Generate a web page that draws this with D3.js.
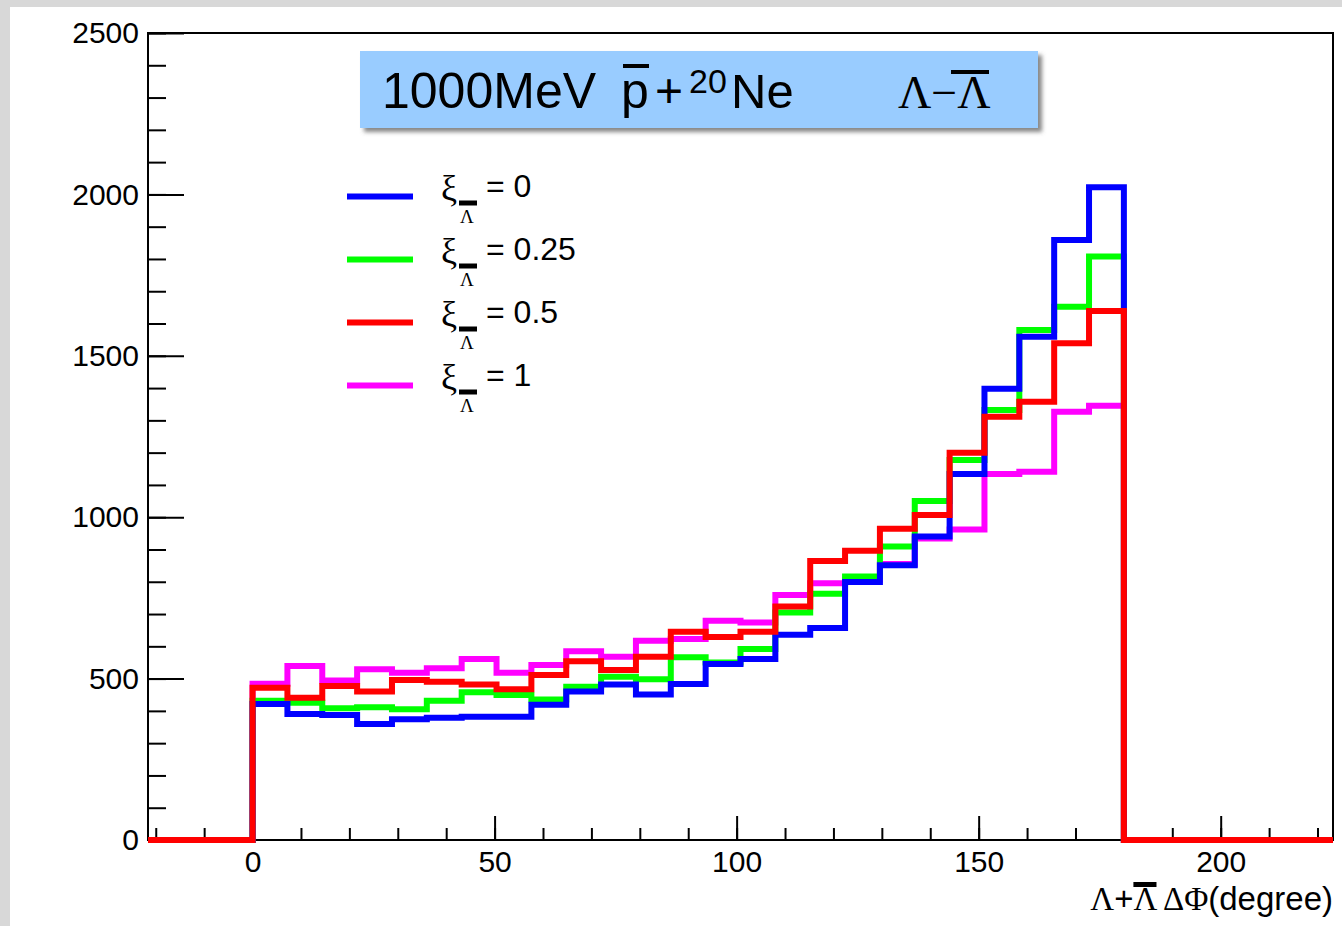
<!DOCTYPE html>
<html>
<head>
<meta charset="utf-8">
<script src="https://d3js.org/d3.v7.min.js"></script>
<style>
body { margin: 0; background: #d8d8d8; }
svg { display: block; }
.tick text { font-family: 'Liberation Sans', Arial, sans-serif; font-size: 30px; fill: #000; }
.tick line { stroke: #000; stroke-width: 2; }
.sans { font-family: 'Liberation Sans', Arial, sans-serif; }
.serif { font-family: 'Liberation Serif', 'Times New Roman', serif; }
</style>
</head>
<body>
<svg width="1342" height="926"></svg>
<script>
// histogram binning (degrees)
var binLow = -21.6, binHigh = 223.2, binWidth = 7.2, filledFrom = 0;

// bin contents for 0..180 in 7.2 degree bins
var xi0   = [421, 390, 387, 359, 374, 379, 382, 382, 419, 460, 482, 451, 483, 545, 561, 636, 657, 799, 851, 940, 1134, 1398, 1559, 1859, 2022];
var xi025 = [431, 425, 408, 411, 405, 431, 458, 449, 435, 475, 506, 498, 566, 550, 592, 705, 763, 816, 909, 1050, 1177, 1332, 1580, 1652, 1808];
var xi05  = [472, 441, 477, 460, 496, 490, 482, 467, 511, 554, 527, 568, 645, 629, 645, 723, 864, 896, 964, 1007, 1200, 1311, 1358, 1539, 1639];
var xi1   = [484, 539, 494, 529, 518, 532, 561, 518, 542, 585, 568, 617, 623, 679, 674, 759, 795, 806, 855, 934, 962, 1134, 1141, 1327, 1345];

var legendLabels = ['0', '0.25', '0.5', '1'];
var colors = ['#0000ff', '#00ff00', '#ff0000', '#ff00ff'];
var yMajor = [0, 500, 1000, 1500, 2000, 2500];
var xMajor = [0, 50, 100, 150, 200];

var series = [
  {label: legendLabels[0], values: xi0, color: colors[0]},
  {label: legendLabels[1], values: xi025, color: colors[1]},
  {label: legendLabels[2], values: xi05, color: colors[2]},
  {label: legendLabels[3], values: xi1, color: colors[3]}
];
// order in which ROOT drew them (last on top)
var drawOrder = [3, 1, 0, 2];

var svg = d3.select('svg');
svg.append('rect').attr('x', 10).attr('y', 7).attr('width', 1332).attr('height', 919).attr('fill', '#fff');

var x = d3.scaleLinear().domain([binLow, binHigh]).range([148, 1333]);
var y = d3.scaleLinear().domain([0, 2500]).range([840, 33]);

// axes
svg.append('g').attr('transform', 'translate(148,0)')
  .call(d3.axisLeft(y).tickValues(d3.range(0, 2501, 100)).tickSize(-18).tickFormat(''))
  .call(g => g.select('.domain').remove());
svg.append('g').attr('transform', 'translate(148,0)')
  .call(d3.axisLeft(y).tickValues(yMajor).tickSize(-36).tickPadding(9).tickFormat(d3.format('d')))
  .call(g => g.select('.domain').remove());
svg.append('g').attr('transform', 'translate(0,840)')
  .call(d3.axisBottom(x).tickValues(d3.range(-20, 221, 10)).tickSize(-12).tickFormat(''))
  .call(g => g.select('.domain').remove());
svg.append('g').attr('transform', 'translate(0,840)')
  .call(d3.axisBottom(x).tickValues(xMajor).tickSize(-24).tickPadding(11).tickFormat(d3.format('d')))
  .call(g => g.select('.domain').remove());

svg.append('rect')
  .attr('x', x(binLow)).attr('y', y(2500))
  .attr('width', x(binHigh) - x(binLow)).attr('height', y(0) - y(2500))
  .attr('fill', 'none').attr('stroke', '#000').attr('stroke-width', 2);

// step outlines
function steps(vals) {
  var lead = Math.round((filledFrom - binLow) / binWidth);
  var n = Math.round((binHigh - binLow) / binWidth);
  var pts = [];
  for (var i = 0; i < n; i++) {
    var k = i - lead;
    var v = (k >= 0 && k < vals.length) ? vals[k] : 0;
    var lo = binLow + i * binWidth;
    pts.push([lo, v], [lo + binWidth, v]);
  }
  return pts;
}
var line = d3.line().x(d => x(d[0])).y(d => y(d[1]));

svg.append('g').selectAll('path')
  .data(drawOrder.map(i => series[i])).enter().append('path')
  .attr('d', d => line(steps(d.values)))
  .attr('fill', 'none')
  .attr('stroke', d => d.color)
  .attr('stroke-width', 6)
  .attr('stroke-linejoin', 'miter');

// title box
var defs = svg.append('defs');
var f = defs.append('filter').attr('id', 'shadow').attr('x', '-5%').attr('y', '-20%').attr('width', '115%').attr('height', '150%');
f.append('feDropShadow').attr('dx', 4).attr('dy', 4).attr('stdDeviation', 2).attr('flood-color', '#555').attr('flood-opacity', 0.7);

svg.append('rect').attr('x', 360).attr('y', 51).attr('width', 678).attr('height', 77)
  .attr('fill', '#99ccff').attr('filter', 'url(#shadow)');

var t = svg.append('g');
t.append('text').attr('class', 'sans').attr('x', 382).attr('y', 108).attr('font-size', 50).text('1000MeV');
t.append('text').attr('class', 'sans').attr('x', 621).attr('y', 108).attr('font-size', 50).text('p');
t.append('rect').attr('x', 623).attr('y', 64).attr('width', 26).attr('height', 4).attr('fill', '#000');
t.append('text').attr('class', 'sans').attr('x', 655).attr('y', 107).attr('font-size', 48).text('+');
t.append('text').attr('class', 'sans').attr('x', 689).attr('y', 93).attr('font-size', 34).text('20');
t.append('text').attr('class', 'sans').attr('x', 731).attr('y', 108).attr('font-size', 49).text('Ne');
t.append('text').attr('class', 'serif').attr('x', 898).attr('y', 108).attr('font-size', 46).text('Λ−Λ');
t.append('rect').attr('x', 951).attr('y', 70).attr('width', 38).attr('height', 4).attr('fill', '#000');

// legend
var leg = svg.append('g').selectAll('g').data(series).enter().append('g')
  .attr('transform', (d, i) => 'translate(0,' + (196.5 + i * 63) + ')');
leg.append('line').attr('x1', 347).attr('x2', 413).attr('y1', 0).attr('y2', 0)
  .attr('stroke', d => d.color).attr('stroke-width', 6);
leg.append('text').attr('class', 'serif').attr('x', 441).attr('y', 3).attr('font-size', 36).text('ξ');
leg.append('rect').attr('x', 459).attr('y', 4).attr('width', 18).attr('height', 5).attr('fill', '#000');
leg.append('text').attr('class', 'serif').attr('x', 460).attr('y', 26).attr('font-size', 19).text('Λ');
leg.append('text').attr('class', 'sans').attr('x', 486).attr('y', 0).attr('font-size', 32).text(d => '= ' + d.label);

// x axis title
var xt = svg.append('text').attr('x', 1333).attr('y', 910).attr('text-anchor', 'end').attr('font-size', 33);
xt.append('tspan').attr('class', 'serif').text('Λ');
xt.append('tspan').attr('class', 'sans').text('+');
xt.append('tspan').attr('class', 'serif').attr('id', 'lbar').text('Λ');
xt.append('tspan').attr('class', 'serif').text(' ΔΦ');
xt.append('tspan').attr('class', 'sans').text('(degree)');
var lb = document.getElementById('lbar').getExtentOfChar(0);
svg.append('rect').attr('x', lb.x).attr('y', 882).attr('width', lb.width).attr('height', 5).attr('fill', '#000');
</script>
</body>
</html>
